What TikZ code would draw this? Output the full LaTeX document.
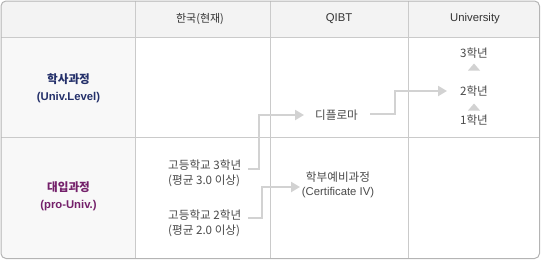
\documentclass[tikz,border=0pt]{standalone}
\usepackage{fontspec}
\setmainfont{Liberation Sans}
\newfontfamily\kr{Noto Sans CJK KR}
\usetikzlibrary{arrows.meta}
\definecolor{hdrbg}{HTML}{F3F3F3}
\definecolor{colbg}{HTML}{F8F8F8}
\definecolor{outer}{HTML}{B4B4B4}
\definecolor{grid}{HTML}{CACACA}
\definecolor{conn}{HTML}{D2D2D2}
\definecolor{txt}{HTML}{4A4A4A}
\definecolor{hdr}{HTML}{333333}
\definecolor{navy}{HTML}{24306A}
\definecolor{plum}{HTML}{74206A}
\begin{document}
\begin{tikzpicture}[x=1pt,y=-1pt,
  every node/.style={inner sep=1pt,font=\fontsize{11.3}{13}\selectfont},
  krfont/.style={font=\kr\fontsize{11.6}{13}\selectfont},
  hdrtxt/.style={text=hdr},
  bodytxt/.style={text=txt},
  rowlab/.style={align=center,font=\fontsize{11.3}{17}\selectfont\bfseries},
  connline/.style={draw=conn,line width=2pt},
  connarrow/.style={connline,-{Triangle[length=9pt,width=10pt]}},
  uptri/.style={fill=conn,draw=none}]
\useasboundingbox (0,0) rectangle (541,260);
% background
\begin{scope}
  \clip[rounded corners=5pt] (1,1) rectangle (539.5,258.5);
  \fill[white] (0,0) rectangle (541,260);
  \fill[hdrbg] (0,0) rectangle (541,37);
  \fill[colbg] (0,37) rectangle (135,260);
\end{scope}
% grid
\draw[grid,line width=1pt] (135,1) -- (135,258.5);
\draw[grid,line width=1pt] (270,1) -- (270,258.5);
\draw[grid,line width=1pt] (408,1) -- (408,258.5);
\draw[grid,line width=1pt] (1,37) -- (539.5,37);
\draw[grid,line width=1pt] (1,137) -- (539.5,137);
\draw[outer,line width=1pt,rounded corners=5pt] (1,1) rectangle (539.5,258.5);
% header
\node[hdrtxt,font=\kr\fontsize{11}{13}\selectfont] (h1) at (200,19) {한국(현재)};
\node[hdrtxt] (h2) at (339,19) {QIBT};
\node[hdrtxt] (h3) at (475,19) {University};
% row labels
\node[rowlab,text=navy] (r1) at (68.5,88.5) {{\kr\fontsize{11.6}{13}\selectfont 학사과정}\\(Univ.Level)};
\node[rowlab,text=plum] (r2) at (68.5,196.5) {{\kr\fontsize{11.6}{13}\selectfont 대입과정}\\(pro-Univ.)};
% korea column
\node[bodytxt,anchor=west,krfont] (hs3a) at (167,165) {고등학교 3학년};
\node[bodytxt,anchor=west,krfont] (hs3b) at (167,181) {(평균 3.0 이상)};
\node[bodytxt,anchor=west,krfont] (hs2a) at (167,215) {고등학교 2학년};
\node[bodytxt,anchor=west,krfont] (hs2b) at (167,231) {(평균 2.0 이상)};
% QIBT column
\node[bodytxt,krfont] (dip) at (336.5,115) {디플로마};
\node[bodytxt,align=center] (cert) at (338,185) {{\kr\fontsize{11.6}{13}\selectfont 학부예비과정}\\[1pt](Certificate IV)};
% university column
\node[bodytxt,krfont] (y3) at (474,53) {3학년};
\node[bodytxt,krfont] (y2) at (474,91) {2학년};
\node[bodytxt,krfont] (y1) at (474,120) {1학년};
\coordinate (t1) at (474,67);
\coordinate (t2) at (474,107);
\fill[uptri] ([xshift=-6pt,yshift=-3.5pt]t1) -- ([yshift=3.5pt]t1) -- ([xshift=6pt,yshift=-3.5pt]t1) -- cycle;
\fill[uptri] ([xshift=-6pt,yshift=-3.5pt]t2) -- ([yshift=3.5pt]t2) -- ([xshift=6pt,yshift=-3.5pt]t2) -- cycle;
% connectors
\coordinate (c1s) at (248,169);
\coordinate (c1e) at (304,115);
\draw[connarrow] (c1s) -- (259,169) |- (c1e);
\coordinate (c2s) at (248,218);
\coordinate (c2e) at (300,187);
\draw[connarrow] (c2s) -- (262,218) |- (c2e);
\coordinate (c3s) at (370,114);
\coordinate (c3e) at (447,91);
\draw[connarrow] (c3s) -- (395,114) |- (c3e);
\end{tikzpicture}
\end{document}
